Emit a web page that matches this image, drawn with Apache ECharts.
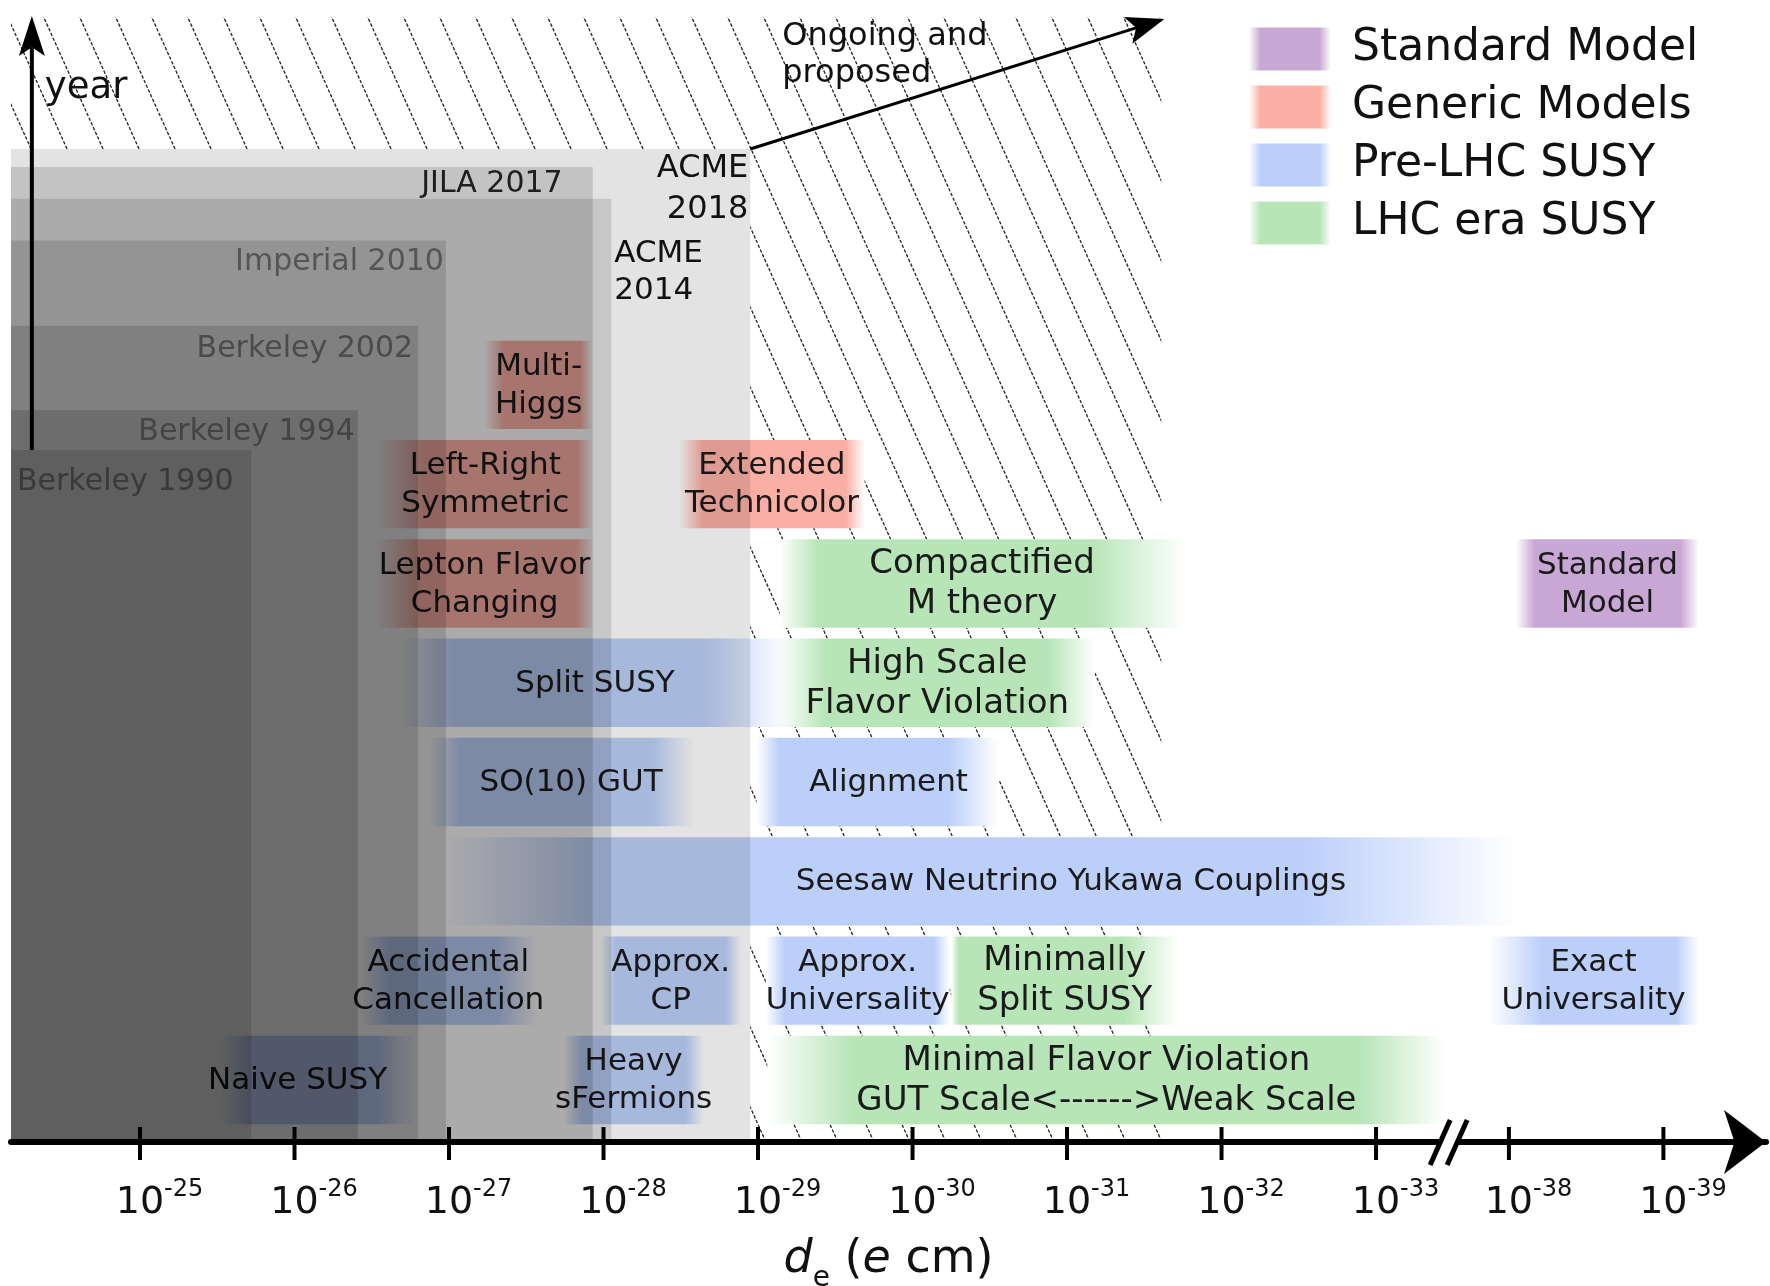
<!DOCTYPE html>
<html><head><meta charset="utf-8">
<script src="https://cdn.jsdelivr.net/npm/echarts@6/dist/echarts.min.js"></script>
<style>html,body{margin:0;padding:0;background:#fff}#c{width:1770px;height:1286px}</style>
</head><body><div id="c"></div>
<script>
// ================= DATA =================
// x positions are -log10(|d_e| / e cm); values past the axis break are shifted left by breakShift
const tickExponents = [25, 26, 27, 28, 29, 30, 31, 32, 33, 38, 39];
const breakAfter = 33;
const breakShift = 4.14;
const breakAt = 33.47;

// experimental limits (gray steps); height = position on the "year" axis
const experimentNames = ['ACME\n2018', 'ACME\n2014', 'JILA 2017', 'Imperial 2010', 'Berkeley 2002', 'Berkeley 1994', 'Berkeley 1990'];
const experimentLimit = [28.95, 28.05, 27.93, 26.98, 26.80, 26.41, 25.72];
const experimentYear  = [10.00, 9.50, 9.82, 9.08, 8.22, 7.37, 6.97];

// theory predictions (bands)
const groups = ['Standard Model', 'Generic Models', 'Pre-LHC SUSY', 'LHC era SUSY'];
const bandLabels = [
  'Multi-\nHiggs', 'Left-Right\nSymmetric', 'Extended\nTechnicolor', 'Lepton Flavor\nChanging',
  'Compactified\nM theory', 'High Scale\nFlavor Violation', 'Minimally\nSplit SUSY',
  'Minimal Flavor Violation\nGUT Scale<------>Weak Scale',
  'Standard\nModel',
  'Split SUSY', 'SO(10) GUT', 'Alignment', 'Seesaw Neutrino Yukawa Couplings',
  'Accidental\nCancellation', 'Approx.\nCP', 'Approx.\nUniversality', 'Exact\nUniversality',
  'Naive SUSY', 'Heavy\nsFermions'
];
const bandGroup = [1, 1, 1, 1, 3, 3, 3, 3, 0, 2, 2, 2, 2, 2, 2, 2, 2, 2, 2];
const bandRow   = [8, 7, 7, 6, 6, 5, 2, 1, 6, 5, 4, 4, 3, 2, 2, 2, 2, 1, 1];
const bandStart = [27.23, 26.54, 28.49, 26.52, 29.14, 29.14, 30.25, 29.06, 33.906, 26.68, 26.87, 28.99, 26.97, 26.42, 27.98, 29.05, 33.725, 25.52, 27.74];
const bandEnd   = [27.93, 27.93, 29.69, 27.94, 31.76, 31.18, 31.72, 33.45, 35.09, 29.21, 28.59, 30.56, 33.92, 27.57, 28.89, 30.24, 35.09, 26.78, 28.65];

// arrows: [x0, y0, x1, y1]
const yearArrow = [24.30, experimentYear[6], 24.30, 11.34];
const ongoingArrow = [experimentLimit[0], experimentYear[0], 31.63, 11.31];

// ================= STYLE / LAYOUT =================
const FONT = 'DejaVu Sans, Verdana, sans-serif';
const X_MIN = 24.165, X_MAX = 35.524, Y_MAX = 11.34;
const ROW_LO = 0.18, ROW_HI = 1.07;
const HATCH_RIGHT = 31.61;
const groupColors = ['#c9a7d4', '#fbafa4', '#bccff9', '#b7e5b7'];
const groupFontSize = [31, 31, 31, 34];
const groupLineHeight = [38, 38, 38, 40];
const expAlpha = [0.11, 0.12, 0.14, 0.13, 0.13, 0.145, 0.125];
const expTextColor = ['#111', '#111', '#1e1e1e', '#555', '#4b4b4b', '#444', '#3a3a3a'];
const expLabelStyle = [
  {align: 'right', dx: -2, dy: 40, lh: 41, size: 32},
  {align: 'left', dx: 3, dy: 74, lh: 37, size: 31},
  {align: 'right', dx: -30, dy: 17, size: 30},
  {align: 'right', dx: -2, dy: 22, size: 30},
  {align: 'right', dx: -5, dy: 23, size: 30},
  {align: 'right', dx: -3, dy: 22, size: 30},
  {align: 'left', fromLeft: true, dx: 6, dy: 32, size: 30}
];
const bandFade = {
  'Multi-\nHiggs': [0.12, 0.08], 'Left-Right\nSymmetric': [0.3, 0.1], 'Extended\nTechnicolor': [0.15, 0.12],
  'Lepton Flavor\nChanging': [0.3, 0.12], 'Compactified\nM theory': [0.25, 0.6], 'High Scale\nFlavor Violation': [0.3, 0.3],
  'Minimally\nSplit SUSY': [0.05, 0.35], 'Minimal Flavor Violation\nGUT Scale<------>Weak Scale': [0.55, 0.55],
  'Standard\nModel': [0.12, 0.12], 'Split SUSY': [0.35, 0.55], 'SO(10) GUT': [0.2, 0.28], 'Alignment': [0.15, 0.33],
  'Seesaw Neutrino Yukawa Couplings': [1.0, 1.4], 'Accidental\nCancellation': [0.2, 0.25], 'Approx.\nCP': [0.1, 0.1],
  'Approx.\nUniversality': [0.12, 0.1], 'Exact\nUniversality': [0.35, 0.15], 'Naive SUSY': [0.2, 0.25], 'Heavy\nsFermions': [0.12, 0.12]
};
const bandLabelShift = {'Seesaw Neutrino Yukawa Couplings': 0.58, 'Naive SUSY': -0.13, 'SO(10) GUT': 0.06, 'Alignment': 0.07};

function pos(e) { return e > breakAfter ? e - breakShift : e; }
const tickPos = tickExponents.map(pos);

function rgba(hex, a) {
  const n = parseInt(hex.slice(1), 16);
  return 'rgba(' + ((n >> 16) & 255) + ',' + ((n >> 8) & 255) + ',' + (n & 255) + ',' + a + ')';
}
function fadeGradient(color, fi, fo) {
  return new echarts.graphic.LinearGradient(0, 0, 1, 0, [
    {offset: 0, color: rgba(color, 0)}, {offset: fi, color: color},
    {offset: 1 - fo, color: color}, {offset: 1, color: rgba(color, 0)}
  ]);
}
function hatchTile() {
  const W = 36, H = 80, c = document.createElement('canvas');
  c.width = W; c.height = H;
  const g = c.getContext('2d');
  g.strokeStyle = '#222'; g.lineWidth = 1.3;
  const L = Math.hypot(W, H), n = 17;
  g.setLineDash([3.4, L / n - 3.4]);
  [-W, 0, W].forEach(function (ox) { g.beginPath(); g.moveTo(ox, 0); g.lineTo(ox + W, H); g.stroke(); });
  return c;
}
const tile = hatchTile();

function renderHatch(params, api) {
  const top = api.value(2), right = api.value(1), left = api.value(0);
  const pts = [[left, top], [right, top], [right, 0], [experimentLimit[0], 0],
    [experimentLimit[0], experimentYear[0]], [left, experimentYear[0]]].map(function (p) { return api.coord(p); });
  return {type: 'polygon', shape: {points: pts}, style: {fill: {image: tile, repeat: 'repeat'}}};
}
function bandRect(api) {
  const x0 = api.value(0), x1 = api.value(1), r = api.value(2);
  const tl = api.coord([x0, r - 1 + ROW_HI]), br = api.coord([x1, r - 1 + ROW_LO]);
  return {x: tl[0], y: tl[1], width: br[0] - tl[0], height: br[1] - tl[1]};
}
function renderUnderlay(params, api) {
  return {type: 'rect', shape: bandRect(api), style: {fill: '#fff'}};
}
function renderBand(params, api) {
  const i = api.value(3), x0 = api.value(0), x1 = api.value(1);
  const s = bandRect(api), lab = bandLabels[i], g = bandGroup[i];
  const f = bandFade[lab] || [0.1, 0.1];
  const fi = Math.min(0.49, f[0] / (x1 - x0)), fo = Math.min(0.49, f[1] / (x1 - x0));
  const cx = api.coord([(x0 + x1) / 2 + (bandLabelShift[lab] || 0), 0])[0];
  return {type: 'group', children: [
    {type: 'rect', shape: s, style: {fill: fadeGradient(groupColors[g], fi, fo)}},
    {type: 'text', x: cx, y: s.y + s.height / 2 + 1, z2: 5, style: {text: lab, fill: '#1a1a1a',
      fontSize: groupFontSize[g], fontFamily: FONT, lineHeight: groupLineHeight[g], align: 'center', verticalAlign: 'middle'}}
  ]};
}
// translucent gray steps are drawn on top of the bands, which darkens them like the reference
function renderExperiment(params, api) {
  const i = api.value(2);
  const tl = api.coord([X_MIN, api.value(1)]), br = api.coord([api.value(0), 0]);
  const st = expLabelStyle[i];
  const ax = st.fromLeft ? tl[0] : br[0];
  return {type: 'group', children: [
    {type: 'rect', shape: {x: tl[0], y: tl[1], width: br[0] - tl[0], height: br[1] - tl[1]}, style: {fill: 'rgba(0,0,0,' + expAlpha[i] + ')'}},
    {type: 'text', x: ax + st.dx, y: tl[1] + st.dy, z2: 10, style: {text: experimentNames[i], fill: expTextColor[i],
      fontSize: st.size, fontFamily: FONT, lineHeight: st.lh || st.size + 6, align: st.align, verticalAlign: 'middle'}}
  ]};
}
function arrowShape(p0, p1, lw, hl, hw) {
  const dx = p1[0] - p0[0], dy = p1[1] - p0[1], L = Math.hypot(dx, dy);
  const ux = dx / L, uy = dy / L, px = -uy, py = ux;
  const bx = p1[0] - ux * hl, by = p1[1] - uy * hl;
  const nx = p1[0] - ux * hl * 0.78, ny = p1[1] - uy * hl * 0.78;
  return [
    {type: 'line', shape: {x1: p0[0], y1: p0[1], x2: nx, y2: ny}, style: {stroke: '#000', lineWidth: lw}},
    {type: 'polygon', shape: {points: [p1, [bx + px * hw / 2, by + py * hw / 2], [nx, ny], [bx - px * hw / 2, by - py * hw / 2]]}, style: {fill: '#000'}}
  ];
}
const arrowLabels = ['year', 'Ongoing and\nproposed'];
const arrowLabelStyle = [{dx: 13, dy: 72, size: 37, lh: 40, from: 1}, {dx: 32, dy: -94, size: 32, lh: 37, from: 0}];
const arrowStyle = [[4, 40, 26], [3, 38, 28]];
function renderArrow(params, api) {
  const i = params.dataIndex;
  const p0 = api.coord([api.value(0), api.value(1)]), p1 = api.coord([api.value(2), api.value(3)]);
  const a = arrowStyle[i], ls = arrowLabelStyle[i];
  const ref = ls.from ? p1 : p0;
  return {type: 'group', children: arrowShape(p0, p1, a[0], a[1], a[2]).concat([
    {type: 'text', x: ref[0] + ls.dx, y: ref[1] + ls.dy, style: {text: arrowLabels[i], fill: '#111', fontSize: ls.size,
      fontFamily: FONT, lineHeight: ls.lh, align: 'left', verticalAlign: 'middle'}}
  ])};
}
function renderTick(params, api) {
  const p = api.coord([api.value(0), 0]);
  return {type: 'line', shape: {x1: p[0], y1: p[1] - 15, x2: p[0], y2: p[1] + 18}, style: {stroke: '#000', lineWidth: 4}};
}
function renderBreak(params, api) {
  const p = api.coord([api.value(0), 0]);
  const sl = function (cx) { return {type: 'line', shape: {x1: cx - 10, y1: p[1] + 23, x2: cx + 10, y2: p[1] - 22}, style: {stroke: '#000', lineWidth: 5}}; };
  return {type: 'group', children: [
    {type: 'rect', shape: {x: p[0] - 9, y: p[1] - 6, width: 18, height: 12}, style: {fill: '#fff'}},
    sl(p[0] - 8.5), sl(p[0] + 8.5)
  ]};
}

const bandIdx = bandLabels.map(function (_, i) { return i; });
const option = {
  backgroundColor: '#fff',
  animation: false,
  grid: {left: 11, right: 4, top: 16, bottom: 144, containLabel: false, outerBoundsMode: 'none'},
  legend: {
    left: 1244, top: 22, orient: 'vertical', icon: 'rect', itemWidth: 82, itemHeight: 43, itemGap: 14,
    selectedMode: false, data: groups,
    textStyle: {fontSize: 44, fontFamily: FONT, color: '#111', padding: [0, 0, 0, 16]}
  },
  xAxis: {
    type: 'value', min: X_MIN, max: X_MAX, z: 10,
    axisLine: {show: true, onZero: false, symbol: ['none', 'arrow'], symbolSize: [48, 42], lineStyle: {color: '#000', width: 6}},
    axisTick: {show: false}, splitLine: {show: false},
    axisLabel: {
      customValues: tickPos, margin: 36, padding: [0, 0, 0, 39],
      formatter: function (v) {
        let k = 0; tickPos.forEach(function (p, j) { if (Math.abs(p - v) < 1e-6) k = j; });
        return '{b|10}{s|-' + tickExponents[k] + '}';
      },
      rich: {
        b: {fontSize: 38, fontFamily: FONT, lineHeight: 44, verticalAlign: 'bottom', color: '#111'},
        s: {fontSize: 24, fontFamily: FONT, lineHeight: 24, verticalAlign: 'top', color: '#111'}
      }
    },
    name: '{i|d}{sub|e}{n| (}{i|e}{n| cm)}', nameLocation: 'middle', nameGap: 95,
    nameTextStyle: {rich: {
      i: {fontSize: 46, fontFamily: FONT, fontStyle: 'italic', lineHeight: 56, verticalAlign: 'top', color: '#111'},
      n: {fontSize: 46, fontFamily: FONT, lineHeight: 56, verticalAlign: 'top', color: '#111'},
      sub: {fontSize: 28, fontFamily: FONT, lineHeight: 20, verticalAlign: 'bottom', color: '#111'}
    }}
  },
  yAxis: {type: 'value', min: 0, max: Y_MAX, show: false},
  series: [
    {type: 'custom', name: 'hatch', z: 1, silent: true, renderItem: renderHatch, data: [[X_MIN, HATCH_RIGHT, Y_MAX - 0.01]]},
    {type: 'custom', name: 'underlay', z: 2, silent: true, renderItem: renderUnderlay,
      data: bandIdx.map(function (i) { return [bandStart[i], bandEnd[i], bandRow[i], i]; })}
  ].concat(groups.map(function (gname, g) {
    return {
      type: 'custom', name: gname, z: 3, silent: true, renderItem: renderBand,
      itemStyle: {color: fadeGradient(groupColors[g], 0.14, 0.14)},
      encode: {x: [0, 1], y: 2},
      data: bandIdx.filter(function (i) { return bandGroup[i] === g; })
        .map(function (i) { return [bandStart[i], bandEnd[i], bandRow[i], i]; })
    };
  })).concat([
    {type: 'custom', name: 'experiments', z: 4, silent: true, renderItem: renderExperiment,
      data: experimentNames.map(function (_, i) { return [experimentLimit[i], experimentYear[i], i]; })},
    {type: 'custom', name: 'arrows', z: 5, silent: true, renderItem: renderArrow, data: [yearArrow, ongoingArrow]},
    {type: 'custom', name: 'ticks', z: 11, silent: true, renderItem: renderTick, data: tickPos.map(function (p) { return [p]; })},
    {type: 'custom', name: 'break', z: 12, silent: true, renderItem: renderBreak, data: [[breakAt]]}
  ])
};
const chart = echarts.init(document.getElementById('c'));
chart.setOption(option);
</script>
</body></html>
